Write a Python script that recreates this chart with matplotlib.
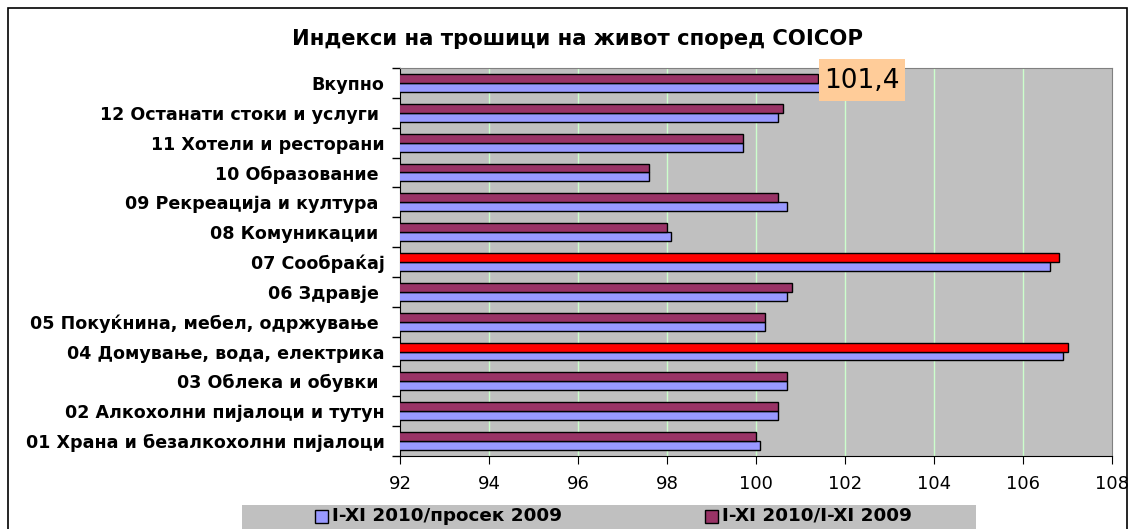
import matplotlib.pyplot as plt
from matplotlib.patches import Rectangle
from matplotlib.ticker import FixedLocator

plt.rcParams['font.family'] = ['DejaVu Sans']

# Податоци (од горе надолу)
kategorii = ['Вкупно', '12 Останати стоки и услуги ', '11 Хотели и ресторани',
             '10 Образование ', '09 Рекреација и култура ', '08 Комуникации ',
             '07 Сообраќај', '06 Здравје ', '05 Покуќнина, мебел, одржување ',
             '04 Домување, вода, електрика', '03 Облека и обувки ',
             '02 Алкохолни пијалоци и тутун', '01 Храна и безалкохолни пијалоци']
prosek_2009 = [101.6, 100.5, 99.7, 97.6, 100.7, 98.1, 106.6, 100.7, 100.2, 106.9, 100.7, 100.5, 100.1]
xi_2009 = [101.4, 100.6, 99.7, 97.6, 100.5, 98.0, 106.8, 100.8, 100.2, 107.0, 100.7, 100.5, 100.0]
istaknati = ['07 Сообраќај', '04 Домување, вода, електрика']
xticks = [92, 94, 96, 98, 100, 102, 104, 106, 108]

naslov = 'Индекси на трошици на живот според COICOP'
etiketa = '101,4'
leg1 = 'I-XI 2010/просек 2009'
leg2 = 'I-XI 2010/I-XI 2009'

fig = plt.figure(figsize=(11.35, 5.29), dpi=100)
W, H = 1135, 529
ax = fig.add_axes([400 / W, 1 - 456 / H, 712 / W, 388 / H])
ax.set_facecolor('#C0C0C0')

n = len(kategorii)
y = [n - 1 - i for i in range(n)]
h = 0.3
boja2 = ['#FF0000' if k in istaknati else '#993366' for k in kategorii]
ax.barh([v - h / 2 for v in y], prosek_2009, height=h, color='#9999FF',
        edgecolor='black', linewidth=1, zorder=3)
ax.barh([v + h / 2 for v in y], xi_2009, height=h, color=boja2,
        edgecolor='black', linewidth=1, zorder=3)

ax.set_xlim(92, 108)
ax.set_ylim(-0.5, n - 0.5)
ax.set_xticks(xticks)
ax.set_xticklabels([str(t) for t in xticks], fontsize=13)
for t in xticks[1:-1]:
    ax.axvline(t, color='#CCFFCC', linewidth=1, zorder=1)

ax.set_yticks(y)
ax.set_yticklabels(kategorii, fontsize=12.6, fontweight='bold')
ax.tick_params(axis='y', which='major', length=0, pad=11)
ax.yaxis.set_minor_locator(FixedLocator([v + 0.5 for v in range(-1, n)]))
ax.tick_params(axis='y', which='minor', length=6, width=1)
ax.tick_params(axis='x', length=6, pad=8)

for s in ['top', 'right']:
    ax.spines[s].set_color('#808080')
for s in ['left', 'bottom']:
    ax.spines[s].set_color('black')

# етикета за вкупно
fig.patches.append(Rectangle((819 / W, 1 - 101 / H), 86 / W, 42 / H, transform=fig.transFigure,
                             facecolor='#FFCC99', edgecolor='none', zorder=5))
fig.text(862 / W, 1 - 81 / H, etiketa, fontsize=19, ha='center', va='center', zorder=6)

fig.text(577 / W, 1 - 39 / H, naslov, fontsize=15.2, fontweight='bold', ha='center', va='center')

# легенда
fig.patches.append(Rectangle((242 / W, -0.05), 734 / W, 0.05 + 24 / H, transform=fig.transFigure,
                             facecolor='#C0C0C0', edgecolor='none'))
for x0, col, lab in [(315, '#9999FF', leg1), (705, '#993366', leg2)]:
    fig.patches.append(Rectangle((x0 / W, 1 - 523 / H), 13 / W, 13 / H, transform=fig.transFigure,
                                 facecolor=col, edgecolor='black', linewidth=1))
    fig.text((x0 + 17) / W, 1 - 516 / H, lab, fontsize=13.2, fontweight='bold', va='center')

# рамка
fig.patches.append(Rectangle((8 / W, -0.1), 1119 / W, 1.1 - 8 / H, transform=fig.transFigure,
                             facecolor='none', edgecolor='black', linewidth=1.2))

fig.savefig('out.png', dpi=100)
